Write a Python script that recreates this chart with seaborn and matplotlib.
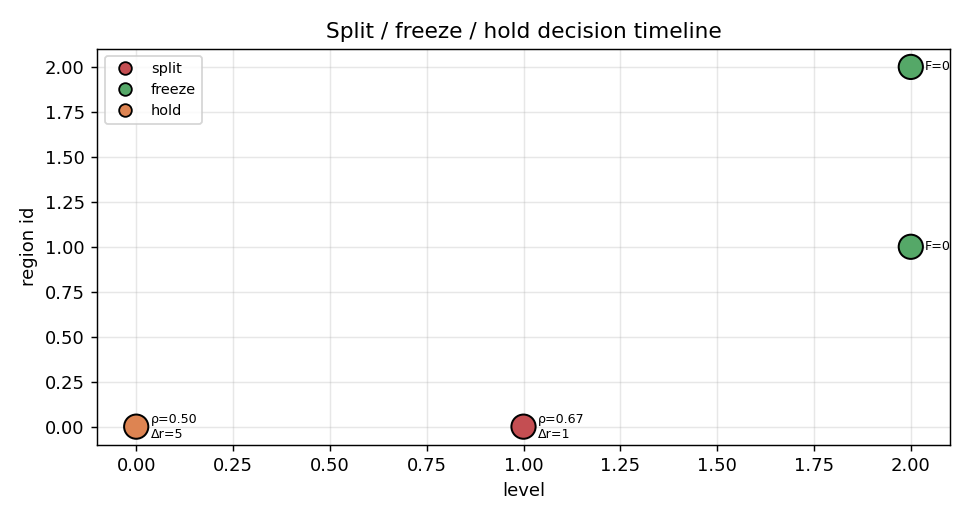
import numpy as np
import pandas as pd
import seaborn as sns
import matplotlib
matplotlib.use("Agg")
import matplotlib.pyplot as plt

# decision events
levels = [0, 1, 2, 2]
region_ids = [0, 0, 1, 2]
decisions = ["hold", "split", "freeze", "freeze"]
notes = ["ρ=0.50\nΔr=5", "ρ=0.67\nΔr=1", "F=0", "F=0"]

order = ["split", "freeze", "hold"]
deep = sns.color_palette("deep")
palette = {"split": deep[3], "freeze": deep[2], "hold": deep[1]}

df = pd.DataFrame({"level": levels, "region": region_ids, "decision": decisions, "note": notes})

fig, ax = plt.subplots(figsize=(7.5, 4), dpi=130)
sns.scatterplot(data=df, x="level", y="region", hue="decision", hue_order=order,
                palette=palette, s=180, edgecolor="black", linewidth=1.1, ax=ax, zorder=3)

for _, r in df.iterrows():
    ax.annotate(r["note"], (r["level"], r["region"]), xytext=(8, 0),
                textcoords="offset points", va="center", ha="left", fontsize=7)

ax.grid(True, alpha=0.3)
ax.set_xlabel("level")
ax.set_ylabel("region id")
ax.set_title("Split / freeze / hold decision timeline")

leg = ax.legend(loc="upper left", fontsize=8)
for h in leg.legend_handles:
    h.set_markeredgecolor("black")
    h.set_markeredgewidth(1.0)
    h.set_markersize(7)

fig.tight_layout(rect=(0, 0, 1, 0.995))
fig.savefig("out.png")
